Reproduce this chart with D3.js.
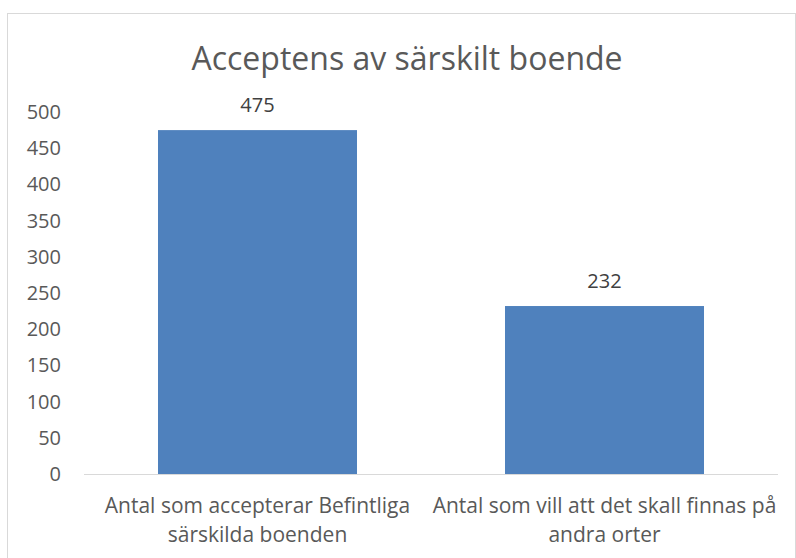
<!DOCTYPE html>
<html lang="sv">
<head>
<meta charset="utf-8">
<title>Acceptens av särskilt boende</title>
<script src="https://cdn.jsdelivr.net/npm/d3@7"></script>
<style>
  body { margin: 0; background: #fff; }
  text { font-family: "Open Sans", "Noto Sans", sans-serif; }
</style>
</head>
<body>
<div id="chart"></div>
<script>
var categories = [
  ["Antal som accepterar Befintliga", "särskilda boenden"],
  ["Antal som vill att det skall finnas på", "andra orter"]
];
var values = [475, 232];
var yTicks = [0, 50, 100, 150, 200, 250, 300, 350, 400, 450, 500];
var title = "Acceptens av särskilt boende";

var width = 796,
    height = 558;

var svg = d3.select("#chart")
    .append("svg")
    .attr("width", width)
    .attr("height", height);

// chart frame
svg.append("rect")
    .attr("x", 7.5).attr("y", 13.5)
    .attr("width", 788).attr("height", 560)
    .attr("fill", "none")
    .attr("stroke", "#d9d9d9");

var x = d3.scaleBand()
    .domain(d3.range(values.length))
    .range([84, 778])
    .paddingInner(0.4265)
    .paddingOuter(0.21325);

var y = d3.scaleLinear()
    .domain([0, 500])
    .range([474, 112]);

svg.append("text")
    .attr("x", 407).attr("y", 70)
    .attr("text-anchor", "middle")
    .attr("font-size", 32)
    .attr("fill", "#595959")
    .text(title);

// y axis labels
svg.selectAll(".ytick")
    .data(yTicks)
  .enter().append("text")
    .attr("class", "ytick")
    .attr("x", 61)
    .attr("y", function(d) { return y(d); })
    .attr("dy", "0.35em")
    .attr("text-anchor", "end")
    .attr("font-size", 20)
    .attr("fill", "#595959")
    .text(function(d) { return d; });

svg.selectAll(".bar")
    .data(values)
  .enter().append("rect")
    .attr("class", "bar")
    .attr("x", function(d, i) { return x(i); })
    .attr("y", function(d) { return y(d); })
    .attr("width", x.bandwidth())
    .attr("height", function(d) { return y(0) - y(d); })
    .attr("fill", "#4f81bd");

svg.selectAll(".val")
    .data(values)
  .enter().append("text")
    .attr("class", "val")
    .attr("x", function(d, i) { return x(i) + x.bandwidth() / 2; })
    .attr("y", function(d) { return y(d) - 18; })
    .attr("text-anchor", "middle")
    .attr("font-size", 20)
    .attr("fill", "#404040")
    .text(function(d) { return d; });

// baseline
svg.append("line")
    .attr("x1", 84).attr("x2", 778)
    .attr("y1", y(0) + 0.5).attr("y2", y(0) + 0.5)
    .attr("stroke", "#d9d9d9");

var xl = svg.selectAll(".xlab")
    .data(categories)
  .enter().append("text")
    .attr("class", "xlab")
    .attr("text-anchor", "middle")
    .attr("font-size", 21)
    .attr("fill", "#595959");

xl.selectAll("tspan")
    .data(function(d, i) { return d.map(function(s) { return {s: s, i: i}; }); })
  .enter().append("tspan")
    .attr("x", function(d) { return x(d.i) + x.bandwidth() / 2; })
    .attr("y", function(d, j) { return 513 + j * 29; })
    .text(function(d) { return d.s; });
</script>
</body>
</html>
